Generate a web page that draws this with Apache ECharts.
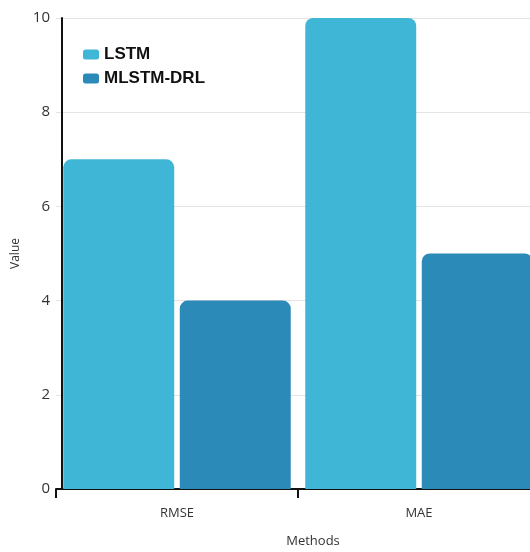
<!DOCTYPE html>
<html>
<head>
<meta charset="utf-8">
<script src="https://cdn.jsdelivr.net/npm/echarts@6/dist/echarts.min.js"></script>
<style>
  html, body { margin: 0; padding: 0; background: #fff; }
  #chart { width: 530px; height: 552px; }
</style>
</head>
<body>
<div id="chart"></div>
<script>
// Error metrics per method
const categories = ['RMSE', 'MAE'];
const lstmValues = [7, 10];
const mlstmDrlValues = [4, 5];
const yTicks = [0, 2, 4, 6, 8, 10];

const chart = echarts.init(document.getElementById('chart'), null, { renderer: 'canvas' });

const barTop = { borderRadius: [8, 8, 0, 0] };

chart.setOption({
  animation: false,
  backgroundColor: '#ffffff',
  textStyle: { fontFamily: 'Open Sans, sans-serif' },
  grid: { left: 56, width: 484, top: 18, bottom: 63, containLabel: false, outerBoundsMode: 'none' },
  legend: {
    left: 78,
    top: 41,
    orient: 'vertical',
    itemWidth: 16,
    itemHeight: 10,
    itemGap: 7,
    icon: 'roundRect',
    textStyle: { fontSize: 17, fontWeight: 'bold', color: '#111', fontFamily: 'Liberation Sans, Arial, sans-serif' },
    data: ['LSTM', 'MLSTM-DRL']
  },
  xAxis: {
    type: 'category',
    data: categories,
    name: 'Methods',
    nameLocation: 'middle',
    nameGap: 46,
    nameTextStyle: { fontSize: 13, color: '#333', padding: [0, 0, 0, 30] },
    axisLine: { lineStyle: { color: '#111', width: 2 } },
    axisTick: { show: true, length: 9, lineStyle: { color: '#111', width: 2 } },
    axisLabel: { fontSize: 13, color: '#333', margin: 18 }
  },
  yAxis: {
    type: 'value',
    min: yTicks[0],
    max: yTicks[yTicks.length - 1],
    interval: 2,
    offset: -6,
    name: 'Value',
    nameLocation: 'middle',
    nameGap: 38,
    nameTextStyle: { fontSize: 12, color: '#333' },
    axisLine: { show: true, lineStyle: { color: '#111', width: 2 } },
    axisTick: { show: false },
    axisLabel: { fontSize: 15, color: '#333', margin: 12 },
    splitLine: { lineStyle: { color: '#e4e4e4', width: 1 } }
  },
  series: [
    {
      name: 'LSTM',
      type: 'bar',
      data: lstmValues,
      barGap: '5%',
      barCategoryGap: '6%',
      itemStyle: Object.assign({ color: '#40b6d6' }, barTop)
    },
    {
      name: 'MLSTM-DRL',
      type: 'bar',
      data: mlstmDrlValues,
      itemStyle: Object.assign({ color: '#2c8ab8' }, barTop)
    }
  ]
});
</script>
</body>
</html>
